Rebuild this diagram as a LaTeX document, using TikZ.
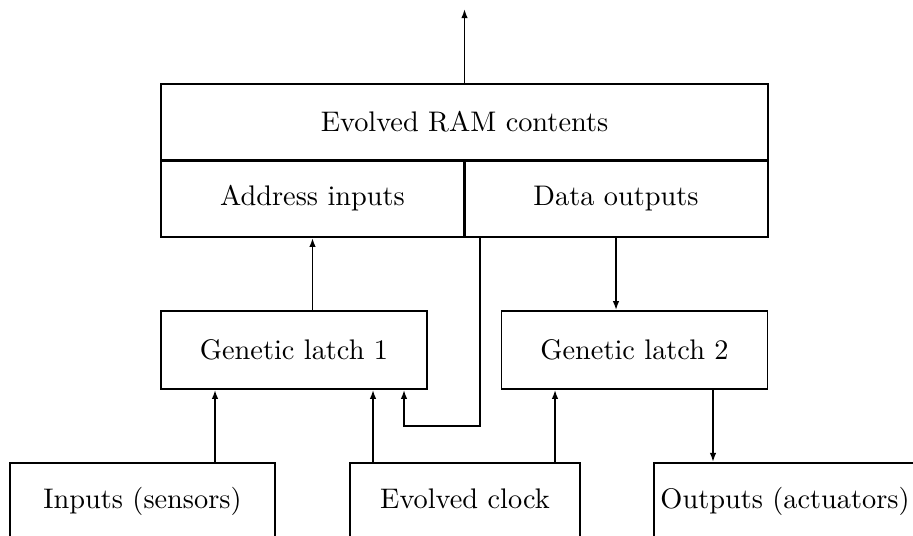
\documentclass[tikz,border=0pt]{standalone}
\usetikzlibrary{arrows.meta,calc}

\begin{document}
\begin{tikzpicture}[x=0.353pt,y=-0.353pt,
    box/.style={draw, line width=0.6pt, inner sep=0pt, minimum height=27.2pt},
    openbox/.style={draw, line width=0.6pt, anchor=north, inner xsep=0pt,
      inner ysep=8.7pt, text height=7.5pt, text depth=40pt},
    arr/.style={line width=0.6pt, -{Latex[length=3.2pt,width=2.3pt]}}]
  \clip (0,0) rectangle (913,535);
  % \draw[very thin, gray, step=50] (0,0) grid (913,535);

  % evolved RAM
  \node[box, minimum width=214.3pt, minimum height=26.8pt] (ram) at (464.5,122) {Evolved RAM contents};
  \node[box, minimum width=107pt] (addr) at (312.5,198.5) {Address inputs};
  \node[box, minimum width=107.3pt] (data) at (616,198.5) {Data outputs};
  \draw[line width=1pt] (ram.south west) -- (ram.south east);
  \draw[line width=1pt] (addr.north east) -- (addr.south east);

  % latches
  \node[box, minimum width=93.9pt, minimum height=27.5pt] (latch1) at (294,350) {Genetic latch 1};
  \node[box, minimum width=93.9pt, minimum height=27.5pt] (latch2) at (634.5,350) {Genetic latch 2};

  % inputs, clock and outputs
  \node[openbox, minimum width=93.5pt] (inputs) at (142.5,462) {Inputs (sensors)};
  \node[openbox, minimum width=81.2pt] (clock) at (465,462) {Evolved clock};
  \node[openbox, minimum width=92.5pt] (outputs) at (785,462) {Outputs (actuators)};

  \coordinate (out) at (464.5,9);
  \coordinate (fb) at (480,237);
  \coordinate (fbturn) at (404,426);

  \draw[arr] (ram.north) -- (out);
  \draw[arr] (addr.south |- latch1.north) -- (addr.south);
  \draw[arr] (data.south) -- (data.south |- latch2.north);
  \draw[arr] (fb) |- (fbturn) -- (fbturn |- latch1.south);
  \draw[arr] ($(inputs.north)+(72.5,0)$) coordinate (in1) -- (in1 |- latch1.south);
  \draw[arr] ($(clock.north)+(-92,0)$) coordinate (ck1) -- (ck1 |- latch1.south);
  \draw[arr] ($(clock.north)+(90,0)$) coordinate (ck2) -- (ck2 |- latch2.south);
  \draw[arr] ($(latch2.south)+(78.5,0)$) coordinate (out1) -- (out1 |- outputs.north);
\end{tikzpicture}
\end{document}
